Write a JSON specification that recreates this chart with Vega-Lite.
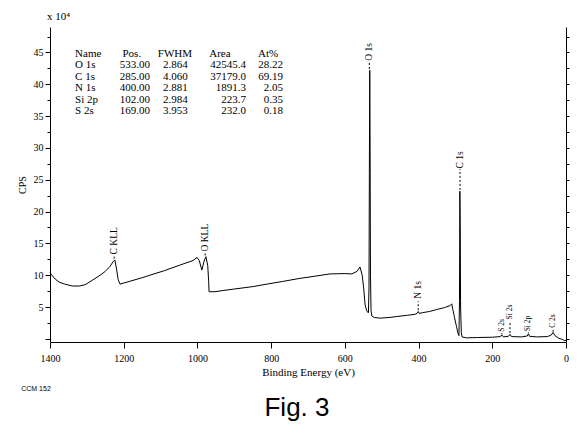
{
  "$schema": "https://vega.github.io/schema/vega-lite/v6.json",
  "width": 516,
  "height": 315,
  "autosize": {"type": "none"},
  "padding": {"left": 50, "top": 27, "right": 14, "bottom": 92},
  "background": "white",
  "config": {"view": {"stroke": null}, "font": "Liberation Serif"},
  "title": {"text": "Fig. 3", "orient": "bottom", "font": "Liberation Sans", "fontSize": 26, "fontWeight": "normal", "color": "black", "offset": 3, "dx": -11},
  "datasets": {
    "spectrum": [
      {"E": 1400, "cps": 10.4}, {"E": 1395, "cps": 10.0}, {"E": 1386, "cps": 9.4}, {"E": 1375, "cps": 8.9},
      {"E": 1360, "cps": 8.6}, {"E": 1340, "cps": 8.3}, {"E": 1320, "cps": 8.3}, {"E": 1305, "cps": 8.5},
      {"E": 1285, "cps": 9.2}, {"E": 1264, "cps": 10.0}, {"E": 1250, "cps": 10.6}, {"E": 1237, "cps": 11.4},
      {"E": 1229, "cps": 12.1}, {"E": 1224, "cps": 12.4}, {"E": 1219, "cps": 10.8}, {"E": 1215, "cps": 9.3},
      {"E": 1210, "cps": 8.6}, {"E": 1180, "cps": 9.1}, {"E": 1150, "cps": 9.6}, {"E": 1129, "cps": 10.0},
      {"E": 1090, "cps": 10.7}, {"E": 1047, "cps": 11.6}, {"E": 1012, "cps": 12.3}, {"E": 1001, "cps": 12.8},
      {"E": 995, "cps": 12.3}, {"E": 988, "cps": 10.8}, {"E": 982, "cps": 12.2}, {"E": 977, "cps": 12.9},
      {"E": 972, "cps": 11.5}, {"E": 969.5, "cps": 9.0}, {"E": 968.5, "cps": 7.4}, {"E": 952, "cps": 7.4},
      {"E": 930, "cps": 7.6}, {"E": 903, "cps": 7.8}, {"E": 850, "cps": 8.2}, {"E": 811, "cps": 8.6},
      {"E": 770, "cps": 9.0}, {"E": 722, "cps": 9.5}, {"E": 686, "cps": 9.8}, {"E": 640, "cps": 10.2},
      {"E": 600, "cps": 10.25}, {"E": 581, "cps": 10.2}, {"E": 567, "cps": 10.6}, {"E": 559, "cps": 11.3},
      {"E": 553, "cps": 10.0}, {"E": 549, "cps": 8.0}, {"E": 545, "cps": 5.3}, {"E": 540, "cps": 4.3},
      {"E": 536, "cps": 4.1}, {"E": 534.5, "cps": 8.0}, {"E": 533.5, "cps": 26}, {"E": 532.5, "cps": 42.2},
      {"E": 531.5, "cps": 30}, {"E": 530.5, "cps": 10}, {"E": 529, "cps": 4.5}, {"E": 527, "cps": 3.6},
      {"E": 520, "cps": 3.35}, {"E": 505, "cps": 3.25}, {"E": 480, "cps": 3.35}, {"E": 459, "cps": 3.5},
      {"E": 430, "cps": 3.7}, {"E": 410, "cps": 3.85}, {"E": 404, "cps": 4.0}, {"E": 401, "cps": 4.3},
      {"E": 398, "cps": 4.0}, {"E": 390, "cps": 4.1}, {"E": 370, "cps": 4.3}, {"E": 351, "cps": 4.6},
      {"E": 330, "cps": 4.9}, {"E": 315, "cps": 5.2}, {"E": 310, "cps": 5.5}, {"E": 307, "cps": 4.6},
      {"E": 303, "cps": 3.5}, {"E": 297, "cps": 1.9}, {"E": 293, "cps": 0.9}, {"E": 290.5, "cps": 0.5},
      {"E": 289, "cps": 6}, {"E": 288, "cps": 23.2}, {"E": 287, "cps": 18}, {"E": 286, "cps": 5},
      {"E": 284, "cps": 1.0}, {"E": 282, "cps": 0.3}, {"E": 270, "cps": 0.15}, {"E": 240, "cps": 0.2},
      {"E": 200, "cps": 0.25}, {"E": 178, "cps": 0.35}, {"E": 174, "cps": 0.6}, {"E": 170, "cps": 0.3},
      {"E": 156, "cps": 0.4}, {"E": 152, "cps": 0.7}, {"E": 148, "cps": 0.35}, {"E": 120, "cps": 0.3},
      {"E": 105, "cps": 0.45}, {"E": 102, "cps": 0.8}, {"E": 99, "cps": 0.4}, {"E": 80, "cps": 0.3},
      {"E": 50, "cps": 0.35}, {"E": 40, "cps": 0.6}, {"E": 35, "cps": 1.0}, {"E": 30, "cps": 0.5},
      {"E": 20, "cps": 0.1}, {"E": 10, "cps": -0.1}, {"E": 3, "cps": -0.3}, {"E": 0, "cps": -0.2}
    ],
    "peaks": [
      {"label": "C KLL", "E": 1226, "ly": 15.4, "y1": 12.6, "y2": 13.1, "grp": "main"},
      {"label": "O KLL", "E": 979, "ly": 15.9, "y1": 13.1, "y2": 13.6, "grp": "main"},
      {"label": "O 1s", "E": 533.5, "ly": 45.1, "y1": 42.4, "y2": 43.4, "grp": "main"},
      {"label": "C 1s", "E": 287.5, "ly": 28.1, "y1": 23.4, "y2": 26.7, "grp": "main"},
      {"label": "N 1s", "E": 401, "ly": 7.7, "y1": 4.5, "y2": 5.9, "grp": "main"},
      {"label": "S 2s", "E": 174, "ly": 2.1, "y1": 0.7, "y2": 0.9, "grp": "minor"},
      {"label": "Si 2s", "E": 152, "ly": 4.2, "y1": 0.9, "y2": 2.6, "grp": "minor"},
      {"label": "Si 2p", "E": 102, "ly": 2.4, "y1": 0.9, "y2": 1.0, "grp": "minor"},
      {"label": "C 2s", "E": 35, "ly": 2.8, "y1": 1.1, "y2": 1.4, "grp": "minor"}
    ],
    "notes": [
      {"text": "x 10⁴", "E": 1408, "cps": 50.5, "kind": "unit"},
      {"text": "CCM 152", "E": 1438, "cps": -7.9, "kind": "code"}
    ],
    "table": [
      {"Name": "Name", "Pos": "Pos.", "FWHM": "FWHM", "Area": "Area", "At": "At%"},
      {"Name": "O 1s", "Pos": "533.00", "FWHM": "2.864", "Area": "42545.4", "At": "28.22"},
      {"Name": "C 1s", "Pos": "285.00", "FWHM": "4.060", "Area": "37179.0", "At": "69.19"},
      {"Name": "N 1s", "Pos": "400.00", "FWHM": "2.881", "Area": "1891.3", "At": "2.05"},
      {"Name": "Si 2p", "Pos": "102.00", "FWHM": "2.984", "Area": "223.7", "At": "0.35"},
      {"Name": "S 2s", "Pos": "169.00", "FWHM": "3.953", "Area": "232.0", "At": "0.18"}
    ]
  },
  "layer": [
    {
      "layer": [
        {
          "data": {"name": "spectrum"},
          "mark": {"type": "line", "color": "black", "strokeWidth": 1, "clip": false},
          "encoding": {
            "x": {
              "field": "E", "type": "quantitative",
              "scale": {"domain": [0, 1400], "reverse": true, "nice": false, "zero": false},
              "axis": {
                "values": [0,50,100,150,200,250,300,350,400,450,500,550,600,650,700,750,800,850,900,950,1000,1050,1100,1150,1200,1250,1300,1350,1400],
                "labelExpr": "datum.value % 200 === 0 ? datum.label : ''",
                "format": "d",
                "tickSize": {"condition": {"test": "datum.value % 200 === 0", "value": 6}, "value": 3},
                "labelFont": "Liberation Serif", "labelFontSize": 10, "labelColor": "black",
                "labelPadding": 5, "labelFlush": false, "labelOverlap": false,
                "tickColor": "black", "domainColor": "black", "grid": false,
                "title": "Binding Energy (eV)", "titleFont": "Liberation Serif", "titleFontSize": 11,
                "titleFontWeight": "normal", "titleColor": "black", "titlePadding": 3
              }
            },
            "y": {
              "field": "cps", "type": "quantitative",
              "scale": {"domain": [-0.5, 49], "nice": false, "zero": false},
              "axis": {
                "orient": "left",
                "values": [0,2.5,5,7.5,10,12.5,15,17.5,20,22.5,25,27.5,30,32.5,35,37.5,40,42.5,45,47.5],
                "labelExpr": "datum.value > 0 && datum.value % 5 === 0 ? datum.label : ''",
                "tickSize": {"condition": {"test": "datum.value % 5 === 0", "value": 5}, "value": 3},
                "labelFont": "Liberation Serif", "labelFontSize": 10, "labelColor": "black",
                "labelPadding": 2, "labelFlush": false, "labelOverlap": false,
                "tickColor": "black", "domainColor": "black", "grid": false,
                "title": "CPS", "titleFont": "Liberation Serif", "titleFontSize": 10,
                "titleFontWeight": "normal", "titleColor": "black", "titlePadding": 6
              }
            }
          }
        },
        {
          "data": {"name": "peaks"},
          "mark": {"type": "rule", "color": "black", "strokeWidth": 1, "strokeDash": [2, 2]},
          "encoding": {
            "x": {"field": "E", "type": "quantitative", "scale": {"domain": [0, 1400], "reverse": true, "nice": false, "zero": false}},
            "y": {
              "field": "y1", "type": "quantitative",
              "scale": {"domain": [-0.5, 49], "nice": false, "zero": false},
              "axis": {
                "orient": "right", "labels": false, "title": null,
                "values": [0,2.5,5,7.5,10,12.5,15,17.5,20,22.5,25,27.5,30,32.5,35,37.5,40,42.5,45,47.5],
                "tickSize": 3, "tickColor": "black", "domainColor": "black", "grid": false
              }
            },
            "y2": {"field": "y2"}
          }
        },
        {
          "data": {"name": "peaks"},
          "transform": [{"filter": "datum.grp === 'main'"}],
          "mark": {"type": "text", "angle": 270, "align": "center", "baseline": "middle", "font": "Liberation Serif", "fontSize": 9.5, "color": "black"},
          "encoding": {
            "x": {"field": "E", "type": "quantitative", "scale": {"domain": [0, 1400], "reverse": true, "nice": false, "zero": false}},
            "y": {"field": "ly", "type": "quantitative", "scale": {"domain": [-0.5, 49], "nice": false, "zero": false}, "axis": null},
            "text": {"field": "label"}
          }
        },
        {
          "data": {"name": "peaks"},
          "transform": [{"filter": "datum.grp === 'minor'"}],
          "mark": {"type": "text", "angle": 270, "align": "center", "baseline": "middle", "font": "Liberation Serif", "fontSize": 7.5, "color": "black"},
          "encoding": {
            "x": {"field": "E", "type": "quantitative", "scale": {"domain": [0, 1400], "reverse": true, "nice": false, "zero": false}},
            "y": {"field": "ly", "type": "quantitative", "scale": {"domain": [-0.5, 49], "nice": false, "zero": false}, "axis": null},
            "text": {"field": "label"}
          }
        },
        {
          "data": {"name": "notes"},
          "transform": [{"filter": "datum.kind === 'unit'"}],
          "mark": {"type": "text", "align": "left", "baseline": "middle", "font": "Liberation Serif", "fontSize": 11, "color": "black"},
          "encoding": {
            "x": {"field": "E", "type": "quantitative", "scale": {"domain": [0, 1400], "reverse": true, "nice": false, "zero": false}},
            "y": {"field": "cps", "type": "quantitative", "scale": {"domain": [-0.5, 49], "nice": false, "zero": false}, "axis": null},
            "text": {"field": "text"}
          }
        },
        {
          "data": {"name": "notes"},
          "transform": [{"filter": "datum.kind === 'code'"}],
          "mark": {"type": "text", "align": "center", "baseline": "middle", "font": "Liberation Sans", "fontSize": 7, "color": "black"},
          "encoding": {
            "x": {"field": "E", "type": "quantitative", "scale": {"domain": [0, 1400], "reverse": true, "nice": false, "zero": false}},
            "y": {"field": "cps", "type": "quantitative", "scale": {"domain": [-0.5, 49], "nice": false, "zero": false}, "axis": null},
            "text": {"field": "text"}
          }
        }
      ],
      "resolve": {"axis": {"y": "independent"}}
    },
    {
      "data": {"name": "table"},
      "encoding": {
        "y": {"field": "Name", "type": "nominal", "sort": null, "scale": {"type": "point", "range": [21, 90]}, "axis": null}
      },
      "layer": [
        {
          "mark": {"type": "text", "align": "left", "baseline": "middle", "font": "Liberation Serif", "fontSize": 11, "color": "black"},
          "encoding": {"x": {"datum": 1332, "type": "quantitative", "scale": {"domain": [0, 1400], "reverse": true, "nice": false, "zero": false}}, "text": {"field": "Name"}}
        },
        {
          "transform": [{"filter": "datum.Name !== 'Name'"}],
          "mark": {"type": "text", "align": "right", "baseline": "middle", "font": "Liberation Serif", "fontSize": 11, "color": "black"},
          "encoding": {"x": {"datum": 1129, "type": "quantitative", "scale": {"domain": [0, 1400], "reverse": true, "nice": false, "zero": false}}, "text": {"field": "Pos"}}
        },
        {
          "transform": [{"filter": "datum.Name !== 'Name'"}],
          "mark": {"type": "text", "align": "right", "baseline": "middle", "font": "Liberation Serif", "fontSize": 11, "color": "black"},
          "encoding": {"x": {"datum": 1026, "type": "quantitative", "scale": {"domain": [0, 1400], "reverse": true, "nice": false, "zero": false}}, "text": {"field": "FWHM"}}
        },
        {
          "transform": [{"filter": "datum.Name !== 'Name'"}],
          "mark": {"type": "text", "align": "right", "baseline": "middle", "font": "Liberation Serif", "fontSize": 11, "color": "black"},
          "encoding": {"x": {"datum": 868, "type": "quantitative", "scale": {"domain": [0, 1400], "reverse": true, "nice": false, "zero": false}}, "text": {"field": "Area"}}
        },
        {
          "transform": [{"filter": "datum.Name !== 'Name'"}],
          "mark": {"type": "text", "align": "right", "baseline": "middle", "font": "Liberation Serif", "fontSize": 11, "color": "black"},
          "encoding": {"x": {"datum": 768, "type": "quantitative", "scale": {"domain": [0, 1400], "reverse": true, "nice": false, "zero": false}}, "text": {"field": "At"}}
        },
        {
          "transform": [{"filter": "datum.Name === 'Name'"}],
          "mark": {"type": "text", "align": "center", "baseline": "middle", "font": "Liberation Serif", "fontSize": 11, "color": "black"},
          "encoding": {"x": {"datum": 1178, "type": "quantitative", "scale": {"domain": [0, 1400], "reverse": true, "nice": false, "zero": false}}, "text": {"field": "Pos"}}
        },
        {
          "transform": [{"filter": "datum.Name === 'Name'"}],
          "mark": {"type": "text", "align": "center", "baseline": "middle", "font": "Liberation Serif", "fontSize": 11, "color": "black"},
          "encoding": {"x": {"datum": 1061, "type": "quantitative", "scale": {"domain": [0, 1400], "reverse": true, "nice": false, "zero": false}}, "text": {"field": "FWHM"}}
        },
        {
          "transform": [{"filter": "datum.Name === 'Name'"}],
          "mark": {"type": "text", "align": "center", "baseline": "middle", "font": "Liberation Serif", "fontSize": 11, "color": "black"},
          "encoding": {"x": {"datum": 939, "type": "quantitative", "scale": {"domain": [0, 1400], "reverse": true, "nice": false, "zero": false}}, "text": {"field": "Area"}}
        },
        {
          "transform": [{"filter": "datum.Name === 'Name'"}],
          "mark": {"type": "text", "align": "center", "baseline": "middle", "font": "Liberation Serif", "fontSize": 11, "color": "black"},
          "encoding": {"x": {"datum": 808, "type": "quantitative", "scale": {"domain": [0, 1400], "reverse": true, "nice": false, "zero": false}}, "text": {"field": "At"}}
        }
      ]
    }
  ],
  "resolve": {"scale": {"y": "independent"}}
}
